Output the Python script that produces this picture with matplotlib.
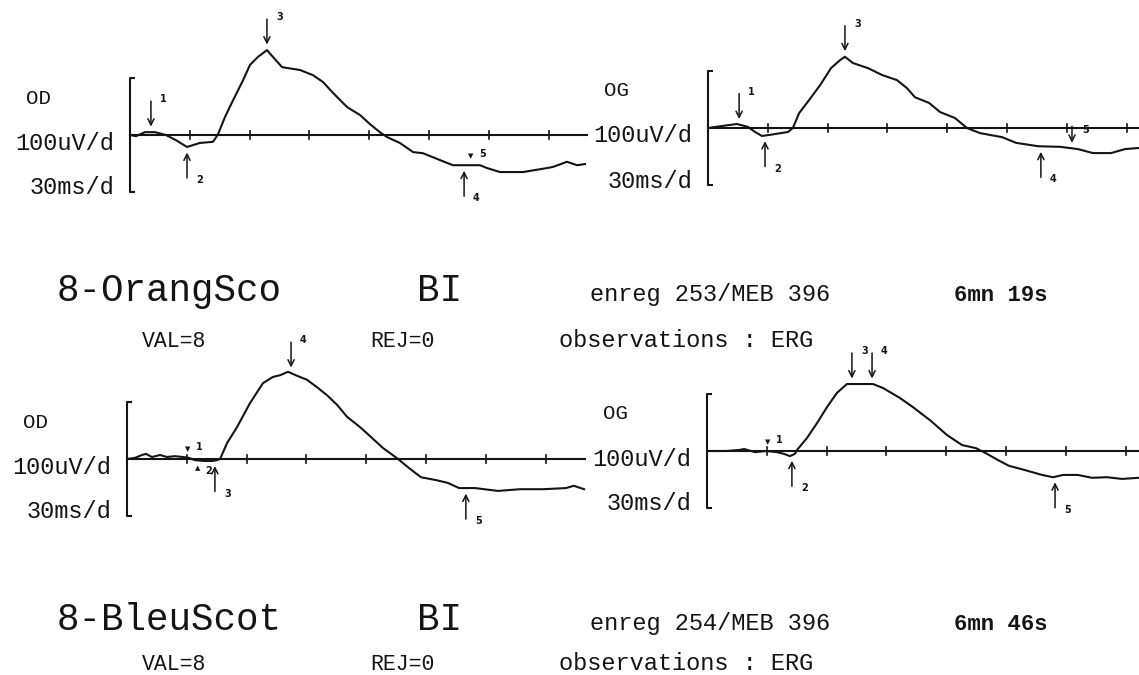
import matplotlib.pyplot as plt
import numpy as np

W, H = 1139, 675
PX_MS = 59.8 / 30    # pixels per ms   (30 ms / div)
PX_UV = 57 / 100     # pixels per uV   (100 uV / div)
INK = '#141414'
MONO = 'Liberation Mono'

# ---- traces : time (ms), amplitude (uV) ----
od1_t = [0, 3, 7.5, 12.5, 18, 23, 28.6, 35, 41.6, 44, 47.7, 51.7, 56.7, 60.2, 64.2,
         68.7, 71.7, 76.3, 85.3, 91.8, 96.8, 101.8, 108.9, 115.4, 120.9, 125.9, 128.9,
         135.4, 142, 147, 155.5, 162, 175.6, 179.1, 185.6, 197.2, 209.2, 212.2, 219.2,
         224.3, 228.3]
od1_a = [0, -2, 5, 5, 0, -9, -21, -14, -12, 0, 32, 61, 96, 123, 137,
         149, 137, 119, 114, 105, 93, 74, 49, 35, 17.5, 3.5, -3.5,
         -14, -30, -32, -44, -53, -53, -58, -65, -65, -58, -56, -47,
         -53, -51]

og1_t = [0, 7, 14.5, 20, 23.6, 27.1, 31.1, 40.1, 42.6, 45.7, 50.7, 56.2, 61.7, 66.2,
         68.7, 72.7, 80.3, 87.3, 94.8, 99.8, 103.8, 110.9, 116.4, 123.9, 129.9, 136.5,
         147.5, 154.5, 165.6, 176.6, 185.6, 193.1, 202.2, 209.2, 216.2]
og1_a = [0, 3.5, 7, 2, -7, -14, -12, -7, 0, 26, 49, 75, 105, 119,
         125, 114, 105, 93, 84, 70, 54, 44, 28, 17.5, 0, -9,
         -16, -26, -32, -33, -37, -44, -44, -37, -35]

od2_t = [0, 4, 7.5, 9.5, 12.5, 16.6, 20, 24, 28, 31, 34, 39, 42.6, 45.2, 46.7, 50.2,
         55.2, 61.7, 68.2, 73.2, 76.8, 80.8, 85.3, 90.3, 95.3, 100.3, 105.4, 110.4,
         116.9, 122.4, 128.4, 136, 141.5, 147.5, 155, 161, 166.6, 174.6, 186.1, 197.2,
         208.7, 220.2, 224.2, 229.3]
od2_a = [0, 2, 7, 9, 3.5, 7, 3.5, 5, 3.5, 2, -2, -3.5, -3.5, -2, 0, 28,
         56, 98, 133, 144, 147, 153, 146, 139, 126, 112, 95, 74,
         56, 38.6, 19.3, 0, -16, -32, -37, -42, -51, -51, -56, -53,
         -53, -51, -47, -53]

og2_t = [0, 9.5, 16.6, 18.6, 24.1, 29.6, 35.1, 38.6, 41.6, 44.1, 45.2, 50.2, 55.2,
         60.2, 65.2, 70.2, 83.3, 88.3, 96.8, 103.3, 111.9, 120.4, 127.9, 134.9, 140.5,
         146, 151.5, 159, 168.1, 173.6, 178.6, 186.1, 193.1, 200.7, 208.2, 216.7]
og2_a = [0, 0, 2, 3.5, -2, 0, -2, -5, -9, -5, 2, 23, 49,
         77, 102, 117.5, 117.5, 110.5, 93, 77, 54, 28, 10.5, 5, -5,
         -16, -26, -33, -42, -46, -42, -42, -47, -46, -49, -47]

# ---- peak markers : latency (ms), label, kind ----
od1_marks = [(10.5, '1', 'down'), (28.6, '2', 'up'), (68.7, '3', 'down'),
             (167.6, '4', 'up'), (171, '5', 'tri')]
og1_marks = [(15.6, '1', 'down'), (28.6, '2', 'up'), (68.7, '3', 'down'),
             (167, '4', 'up'), (182.6, '5', 'short')]
od2_marks = [(30.6, '1', 'tri'), (35.6, '2', 'tri_up'), (44.1, '3', 'up'),
             (82.3, '4', 'down'), (170, '5', 'up')]
og2_marks = [(30.6, '1', 'tri'), (42.6, '2', 'up'), (72.7, '3', 'down'),
             (82.8, '4', 'down'), (174.6, '5', 'up')]

# ---- header lines ----
rec1 = ['8-OrangSco', 'BI', 'enreg 253/MEB 396', '6mn 19s']
rec2 = ['8-BleuScot', 'BI', 'enreg 254/MEB 396', '6mn 46s']
info = ['VAL=8', 'REJ=0', 'observations : ERG']


def px(x, y):
    return x / W, 1 - y / H


def panel(x0, yb, base_len, t, a, marks):
    left, right = x0 - 10, x0 + base_len * PX_MS + 10
    top, bot = yb - 140, yb + 90
    ax = fig.add_axes([left / W, 1 - bot / H, (right - left) / W, (bot - top) / H])
    ax.set_xlim(-10 / PX_MS, (right - x0) / PX_MS)
    ax.set_ylim(-90 / PX_UV, 140 / PX_UV)
    ax.axis('off')
    kw = dict(color=INK, lw=1.5, solid_capstyle='butt', clip_on=False)
    # bracket [ : +/- 1 div
    ax.plot([2.5, 0, 0, 2.5], [100, 100, -100, -100], **kw)
    # baseline with 30 ms ticks
    ax.plot([0, base_len], [0, 0], **kw)
    for k in range(1, 8):
        ax.plot([30 * k, 30 * k], [-7, 7], color=INK, lw=1.2, clip_on=False)
    ax.plot(t, a, color=INK, lw=1.5, solid_joinstyle='round', clip_on=False)

    ap = dict(arrowstyle='->', color=INK, lw=1.1, shrinkA=0, shrinkB=4,
              mutation_scale=11)
    lab = dict(textcoords='offset pixels', fontsize=7, fontweight='bold', color=INK,
               family='DejaVu Sans')
    for tm, s, kind in marks:
        y = np.interp(tm, t, a)
        if kind == 'down':
            ax.annotate('', xy=(tm, y), xytext=(0, 31), textcoords='offset pixels',
                        arrowprops=ap)
            ax.annotate(s, xy=(tm, y), xytext=(9, 33), va='center', **lab)
        elif kind == 'up':
            ax.annotate('', xy=(tm, y), xytext=(0, -31), textcoords='offset pixels',
                        arrowprops=ap)
            ax.annotate(s, xy=(tm, y), xytext=(9, -33), va='center', **lab)
        elif kind == 'short':
            ax.annotate('', xy=(tm, y), xytext=(0, 22), textcoords='offset pixels',
                        arrowprops=ap)
            ax.annotate(s, xy=(tm, y), xytext=(10, 18), va='center', **lab)
        elif kind == 'tri':
            ax.annotate('\u25BC', xy=(tm, y), xytext=(0, 9), ha='center', va='center',
                        **{**lab, 'fontsize': 5})
            ax.annotate(s, xy=(tm, y), xytext=(8, 11), va='center', **lab)
        elif kind == 'tri_up':
            ax.annotate('\u25B2', xy=(tm, y), xytext=(0, -8), ha='center', va='center',
                        **{**lab, 'fontsize': 5})
            ax.annotate(s, xy=(tm, y), xytext=(7, -11), va='center', **lab)
    return ax


def side_labels(x0, yb, eye):
    fs = 17
    fig.text(*px(x0 - 104, yb - 37), eye, ha='left', va='center', fontsize=15,
             family=MONO, color=INK)
    fig.text(*px(x0 - 16, yb + 8), '100uV/d', ha='right', va='center', fontsize=fs,
             family=MONO, color=INK)
    fig.text(*px(x0 - 16, yb + 53), '30ms/d', ha='right', va='center', fontsize=fs,
             family=MONO, color=INK)


def header(y1, y2, rec):
    fig.text(*px(57, y1), rec[0], ha='left', va='baseline', fontsize=27, family=MONO,
             color=INK)
    fig.text(*px(417, y1), rec[1], ha='left', va='baseline', fontsize=27, family=MONO,
             color=INK)
    fig.text(*px(590, y1), rec[2], ha='left', va='baseline', fontsize=17, family=MONO,
             color=INK)
    fig.text(*px(954, y1), rec[3], ha='left', va='baseline', fontsize=16, family=MONO,
             fontweight='bold', color=INK)
    fig.text(*px(142, y2), info[0], ha='left', va='baseline', fontsize=15.5, family=MONO,
             color=INK)
    fig.text(*px(370, y2), info[1], ha='left', va='baseline', fontsize=15.5, family=MONO,
             color=INK)
    fig.text(*px(559, y2), info[2], ha='left', va='baseline', fontsize=17, family=MONO,
             color=INK)


fig = plt.figure(figsize=(W / 100, H / 100), dpi=100)
fig.patch.set_facecolor('white')

panel(130, 135, 229.8, od1_t, od1_a, od1_marks)
panel(708, 128, 216.5, og1_t, og1_a, og1_marks)
panel(127, 459, 230.5, od2_t, od2_a, od2_marks)
panel(707, 451, 216.5, og2_t, og2_a, og2_marks)

side_labels(130, 135, 'OD')
side_labels(708, 128, 'OG')
side_labels(127, 459, 'OD')
side_labels(707, 451, 'OG')

header(301, 347, rec1)
header(630, 670, rec2)

fig.savefig('out.png', dpi=100, facecolor='white')
